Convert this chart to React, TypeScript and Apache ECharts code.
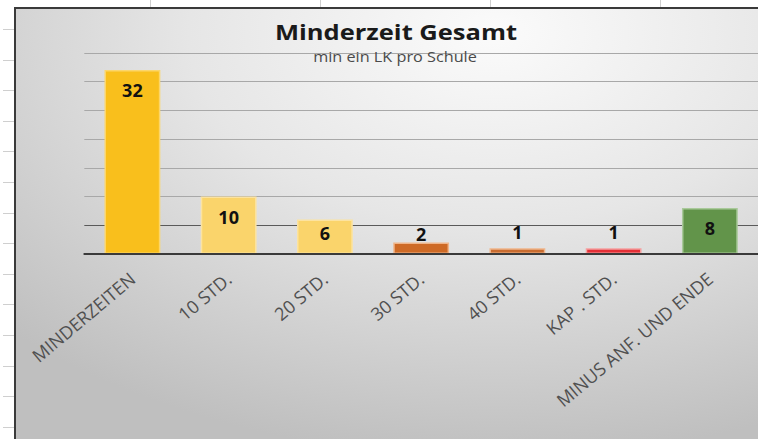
import React, { useEffect, useRef } from "react";
import * as echarts from "echarts";

const categories = ["MINDERZEITEN", "10 STD.", "20 STD.", "30 STD.", "40 STD.", "KAP . STD.", "MINUS ANF. UND ENDE"];
const values = [32, 10, 6, 2, 1, 1, 8];
const yMin = 0;
const yMax = 35;
const yStep = 5;

const titleText = "Minderzeit Gesamt";
const subtitleText = "min ein LK pro Schule";

const barColors = ["#F9BF1C", "#FAD46B", "#FAD46B", "#CE6A26", "#C96C30", "#E42F36", "#62944A"];
const barBorders = ["#FCD66A", "#FCE3A0", "#FCE3A0", "#F0B58A", "#F0B58A", "#F5A0A0", "#A9C99A"];

const FONT = "'Open Sans', 'Liberation Sans', sans-serif";

export default function App() {
  const ref = useRef<HTMLDivElement>(null);
  useEffect(() => {
    if (!ref.current) return;
    const chart = echarts.init(ref.current, undefined, { renderer: "svg" });

    const data = values.map((v, i) => {
      let label: any;
      if (v >= 8) label = { position: "insideTop", distance: 11 };
      else if (v >= 5) label = { position: "insideTop", distance: 4 };
      else if (v >= 2) label = { position: "top", distance: 0 };
      else label = { position: "top", distance: 7 };
      return {
        value: v,
        itemStyle: { color: barColors[i], borderColor: barBorders[i], borderWidth: 1.5 },
        label,
      };
    });

    const leftTicks: any[] = [];
    for (let y = 29; y < 439; y += 30.6) {
      leftTicks.push({ type: "line", shape: { x1: 3, y1: Math.round(y) + 0.5, x2: 14, y2: Math.round(y) + 0.5 }, style: { stroke: "#cfcfcf", lineWidth: 1 }, silent: true });
    }
    const topTicks = [150, 320, 490, 660].map((x) => ({
      type: "line",
      shape: { x1: x + 0.5, y1: 0, x2: x + 0.5, y2: 7 },
      style: { stroke: "#cfcfcf", lineWidth: 1 },
      silent: true,
    }));

    const splitColors = ["#a8a8a8", "#5a5a5a", "#a8a8a8", "#a8a8a8", "#a8a8a8", "#a8a8a8", "#a8a8a8", "#a8a8a8"];

    chart.setOption({
      animation: false,
      backgroundColor: "#ffffff",
      graphic: [
        {
          type: "rect",
          z: -10,
          silent: true,
          shape: { x: 15, y: 8, width: 800, height: 500 },
          style: {
            fill: {
              type: "radial",
              x: 0.6,
              y: 0.05,
              r: 0.85,
              colorStops: [
                { offset: 0, color: "#fbfbfb" },
                { offset: 0.45, color: "#e6e6e6" },
                { offset: 1, color: "#bfbfbf" },
              ],
            },
            stroke: "#3a3a3a",
            lineWidth: 2,
          },
        },
        ...leftTicks,
        ...topTicks,
        {
          type: "text",
          x: 396,
          y: 32,
          scaleX: 1.16,
          z: 10,
          style: {
            text: titleText,
            font: `bold 22px ${FONT}`,
            fill: "#1a1a1a",
            align: "center",
            verticalAlign: "middle",
          },
        },
        {
          type: "text",
          x: 395,
          y: 56,
          scaleX: 1.16,
          z: 10,
          style: {
            text: subtitleText,
            font: `14px ${FONT}`,
            fill: "#4a4a4a",
            align: "center",
            verticalAlign: "middle",
          },
        },
      ],
      grid: { left: 84.3, right: -14.7, top: 52.75, bottom: 185, containLabel: false },
      xAxis: {
        type: "category",
        data: categories,
        axisTick: { show: false },
        axisLine: { show: true, lineStyle: { color: "#3a3a3a", width: 2 } },
        axisLabel: {
          interval: 0,
          rotate: 40,
          margin: 22,
          color: "#505050",
          fontSize: 18,
          fontFamily: FONT,
        },
        z: 5,
      },
      yAxis: {
        type: "value",
        min: yMin,
        max: yMax,
        interval: yStep,
        axisLabel: { show: false },
        axisLine: { show: false },
        axisTick: { show: false },
        splitLine: { show: true, lineStyle: { color: splitColors, width: 1 } },
      },
      series: [
        {
          type: "bar",
          data,
          barWidth: "58%",
          label: {
            show: true,
            color: "#111111",
            fontWeight: "bold",
            fontSize: 18,
            fontFamily: FONT,
          },
        },
      ],
    });
    return () => chart.dispose();
  }, []);
  return (
    <div
      ref={ref}
      style={{ position: "fixed", left: 0, top: 0, width: 758, height: 439 }}
    />
  );
}
